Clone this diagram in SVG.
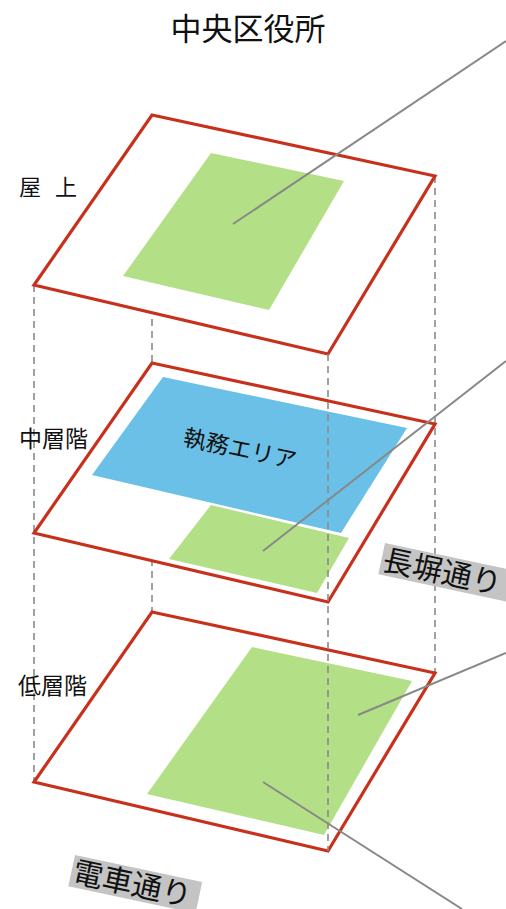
<svg xmlns="http://www.w3.org/2000/svg" width="506" height="909" viewBox="0 0 506 909">
<style>
.floor{fill:#fff;stroke:#c7311c;stroke-width:3.2;stroke-linejoin:miter}
.green{fill:#b3df86}
.blue{fill:#6bc0e8}
.dash{stroke:#8a8a8a;stroke-width:1.6;stroke-dasharray:7 5;fill:none}
.lead{stroke:#888;stroke-width:2;fill:none}
.t{font-family:"Noto Sans CJK JP","Noto Sans",sans-serif;fill:#111}
.road{fill:#c4c4c4}
</style>
<rect width="506" height="909" fill="#fff"/>
<g id="guides-back">
<line class="dash" x1="34" y1="285" x2="34" y2="782"/>
<line class="dash" x1="152" y1="115" x2="152" y2="612"/>
<line class="dash" x1="435" y1="176" x2="435" y2="673"/>
</g>
<g id="floor-roof">
<polygon class="floor" points="152,115 435,176 328,354 34,285"/>
<polygon class="green" points="211,153 344,181 269,310 123,276"/>
</g>
<g id="floor-mid">
<polygon class="floor" points="152,363 435,424 328,602 34,533"/>
<polygon class="blue" points="163,377 407,428 341,533 92,475"/>
<polygon class="green" points="211,505 349,538 317,593 169,559"/>
<text class="t" x="240" y="457" font-size="23" text-anchor="middle" transform="rotate(12 240 449)">執務エリア</text>
</g>
<g id="floor-low">
<polygon class="floor" points="152,612 435,673 328,851 34,782"/>
<polygon class="green" points="252,647 412,681 324,835 147,794"/>
</g>
<g id="guides-front">
<line class="dash" x1="328" y1="354" x2="328" y2="851"/>
</g>
<g id="connectors">
<line class="lead" x1="233" y1="224" x2="506" y2="41"/>
<line class="lead" x1="263" y1="551" x2="506" y2="361"/>
<line class="lead" x1="358" y1="715" x2="506" y2="653"/>
<line class="lead" x1="263" y1="782" x2="462" y2="909"/>
</g>
<g id="title">
<text class="t" x="248" y="40" font-size="31" text-anchor="middle">中央区役所</text>
</g>
<g id="level-labels">
<text class="t" x="19" y="195" font-size="22">屋</text>
<text class="t" x="55" y="195" font-size="22">上</text>
<text class="t" x="19" y="447" font-size="23">中層階</text>
<text class="t" x="18" y="694" font-size="23">低層階</text>
</g>
<g id="road-nagabei" transform="translate(385 543) rotate(12)">
<rect class="road" x="0" y="0" width="132" height="32"/>
<text class="t" x="2" y="27" font-size="30">長塀通り</text>
</g>
<g id="road-densha" transform="translate(75 855) rotate(12)">
<rect class="road" x="0" y="0" width="130" height="32"/>
<text class="t" x="2" y="27" font-size="30">電車通り</text>
</g>
</svg>
